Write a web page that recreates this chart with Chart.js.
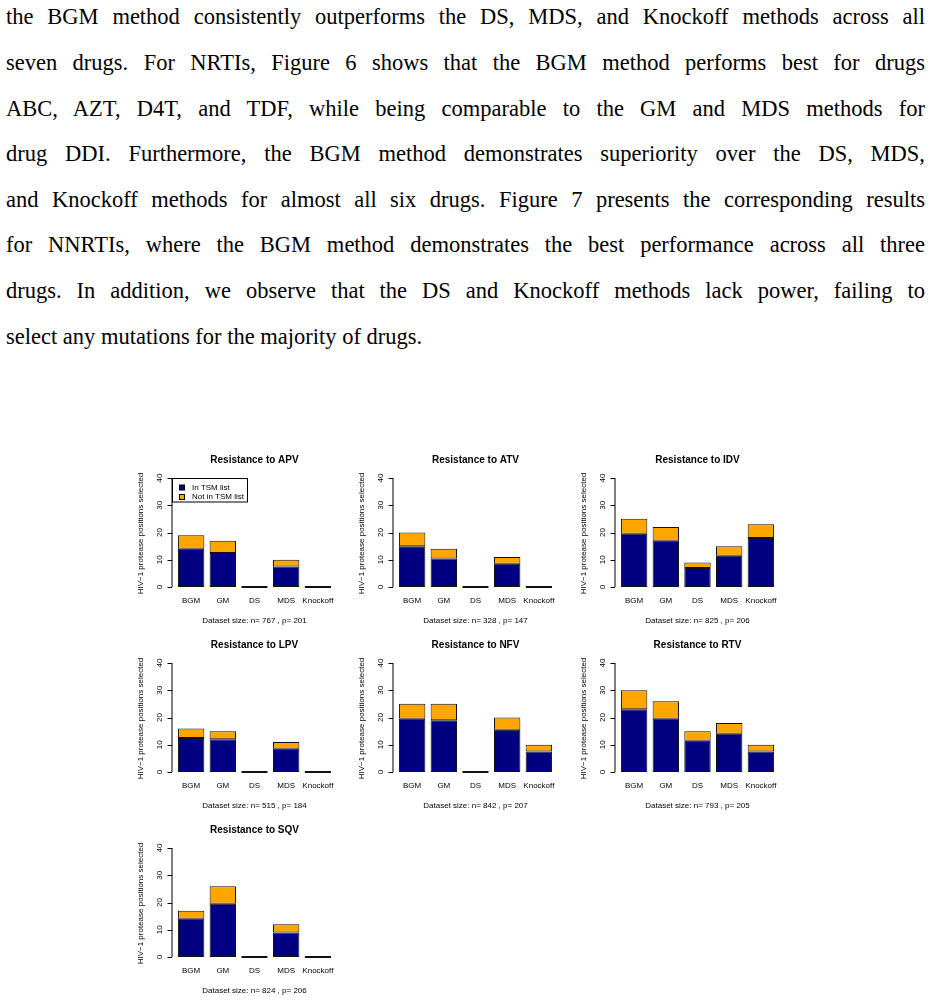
<!DOCTYPE html>
<html>
<head>
<meta charset="utf-8">
<script src="https://cdn.jsdelivr.net/npm/chart.js@4.4.1/dist/chart.umd.min.js"></script>
<style>
  body { margin: 0; background: #fff; }
  #page { position: relative; width: 932px; height: 1001px; overflow: hidden; }
  .line {
    position: absolute; left: 6px; width: 919px;
    font-family: "Liberation Serif", "DejaVu Serif", serif;
    font-size: 22.5px; line-height: 24px; color: #000;
    text-align: justify; text-align-last: justify; white-space: nowrap;
  }
  .line.last { text-align-last: left; }
  canvas { position: absolute; }
</style>
</head>
<body>
<div id="page"></div>
<script>
// text above the figure
const paraLines = [
  "the BGM method consistently outperforms the DS, MDS, and Knockoff methods across all",
  "seven drugs.  For NRTIs, Figure 6 shows that the BGM method performs best for drugs",
  "ABC, AZT, D4T, and TDF, while being comparable to the GM and MDS methods for",
  "drug DDI. Furthermore, the BGM method demonstrates superiority over the DS, MDS,",
  "and Knockoff methods for almost all six drugs. Figure 7 presents the corresponding results",
  "for NNRTIs, where the BGM method demonstrates the best performance across all three",
  "drugs.  In addition, we observe that the DS and Knockoff methods lack power, failing to",
  "select any mutations for the majority of drugs."
];
const lineCenters = [18, 64, 110, 155, 201, 246, 292, 338];

// chart data
const methods = ["BGM", "GM", "DS", "MDS", "Knockoff"];
const drugs = ["APV", "ATV", "IDV", "LPV", "NFV", "RTV", "SQV"];
const sizeN = [767, 328, 825, 515, 842, 793, 824];
const sizeP = [201, 147, 206, 184, 207, 205, 206];

const apvIn  = [14, 12.5, 0, 7.5, 0];
const apvOut = [5, 4.5, 0, 2.5, 0];
const atvIn  = [15, 10.5, 0, 8.5, 0];
const atvOut = [5, 3.5, 0, 2.5, 0];
const idvIn  = [19.5, 17, 7, 11.5, 18];
const idvOut = [5.5, 5, 2, 3.5, 5];
const lpvIn  = [12.5, 12, 0, 8.5, 0];
const lpvOut = [3.5, 3, 0, 2.5, 0];
const nfvIn  = [19.5, 19, 0, 15.5, 7.5];
const nfvOut = [5.5, 6, 0, 4.5, 2.5];
const rtvIn  = [23, 19.5, 11.5, 14, 7.5];
const rtvOut = [7, 6.5, 3.5, 4, 2.5];
const sqvIn  = [14, 19.5, 0, 9, 0];
const sqvOut = [3, 6.5, 0, 3, 0];

const inSeries  = [apvIn, atvIn, idvIn, lpvIn, nfvIn, rtvIn, sqvIn];
const outSeries = [apvOut, atvOut, idvOut, lpvOut, nfvOut, rtvOut, sqvOut];
const yTicks = [0, 10, 20, 30, 40];

// where the y axis line and the zero line of each panel sit on the page
const axisX = [172, 392.7, 614.7];
const zeroY = [587, 772, 957];

const page = document.getElementById("page");
paraLines.forEach((t, i) => {
  const d = document.createElement("div");
  d.className = "line" + (i === paraLines.length - 1 ? " last" : "");
  d.style.top = (lineCenters[i] - 13) + "px";
  d.textContent = t;
  page.appendChild(d);
});

const SANS = '"Liberation Sans", Arial, Helvetica, sans-serif';

// R-style decorations: title, axis, labels, legend
const rStyle = {
  id: "rStyle",
  afterDraw(chart, args, opts) {
    const c = chart.ctx;
    const a = chart.chartArea;
    const y = chart.scales.y;
    const x = chart.scales.x;
    const ax = a.left - 3.3;
    c.save();
    c.fillStyle = "#000";
    c.strokeStyle = "#000";
    c.lineWidth = 1;

    // title
    c.font = "bold 10px " + SANS;
    c.textAlign = "center";
    c.textBaseline = "middle";
    c.fillText(opts.title, (a.left + a.right) / 2, 10.5);

    // y axis
    const y0 = y.getPixelForValue(yTicks[0]);
    const y1 = y.getPixelForValue(yTicks[yTicks.length - 1]);
    c.beginPath();
    c.moveTo(ax, y0);
    c.lineTo(ax, y1);
    yTicks.forEach(v => {
      const py = Math.round(y.getPixelForValue(v)) + 0.5;
      c.moveTo(ax, py);
      c.lineTo(ax - 4.5, py);
    });
    c.stroke();
    c.font = "8px " + SANS;
    yTicks.forEach(v => {
      c.save();
      c.translate(ax - 12, y.getPixelForValue(v));
      c.rotate(-Math.PI / 2);
      c.fillText(String(v), 0, 0);
      c.restore();
    });

    // y label
    c.save();
    c.translate(a.left - 35, (y0 + y1) / 2 + 1);
    c.rotate(-Math.PI / 2);
    c.fillText("HIV\u22121 protease positions selected", 0, 0);
    c.restore();

    // x labels
    methods.forEach((m, i) => {
      c.fillText(m, x.getPixelForValue(i), y0 + 14);
    });

    // subtitle
    c.fillText(opts.sub, (a.left + a.right) / 2, y0 + 33.7);

    // legend box
    if (opts.legend) {
      const bx = Math.round(ax) + 0.5;
      const by = Math.round(y1) + 0.5;
      c.strokeRect(bx, by, 75, 23.5);
      chart.data.datasets.forEach((ds, i) => {
        const cy = by + 9 + i * 9.5;
        c.fillStyle = ds.backgroundColor;
        c.fillRect(bx + 7, cy - 2.5, 5, 5);
        c.strokeRect(bx + 7, cy - 2.5, 5, 5);
        c.fillStyle = "#000";
        c.textAlign = "left";
        c.fillText(ds.label, bx + 19.5, cy);
      });
    }
    c.restore();
  }
};

drugs.forEach((drug, k) => {
  const col = k % 3, row = Math.floor(k / 3);
  const cv = document.createElement("canvas");
  cv.width = 220;
  cv.height = 180;
  cv.style.left = (axisX[col] - 42) + "px";
  cv.style.top = (zeroY[row] - 137) + "px";
  cv.style.width = "220px";
  cv.style.height = "180px";
  page.appendChild(cv);

  new Chart(cv.getContext("2d"), {
    type: "bar",
    data: {
      labels: methods,
      datasets: [
        {
          label: "In TSM list",
          data: inSeries[k],
          backgroundColor: "#000080",
          borderColor: "#111",
          borderWidth: 1,
          borderSkipped: false,
          minBarLength: 2
        },
        {
          label: "Not in TSM list",
          data: outSeries[k],
          backgroundColor: "#FFA500",
          borderColor: "#111",
          borderWidth: 1,
          borderSkipped: false
        }
      ]
    },
    options: {
      responsive: false,
      animation: false,
      devicePixelRatio: 1,
      layout: { padding: { left: 45.3, right: 16.3, top: 23.6, bottom: 38.6 } },
      datasets: { bar: { categoryPercentage: 1, barPercentage: 1 / 1.2 } },
      scales: {
        x: { display: false, stacked: true },
        y: { display: false, stacked: true, min: -1.6, max: 41.6 }
      },
      plugins: {
        legend: { display: false },
        tooltip: { enabled: false },
        rStyle: {
          title: "Resistance to " + drug,
          sub: "Dataset size: n= " + sizeN[k] + " , p= " + sizeP[k],
          legend: k === 0
        }
      }
    },
    plugins: [rStyle]
  });
});
</script>
</body>
</html>
